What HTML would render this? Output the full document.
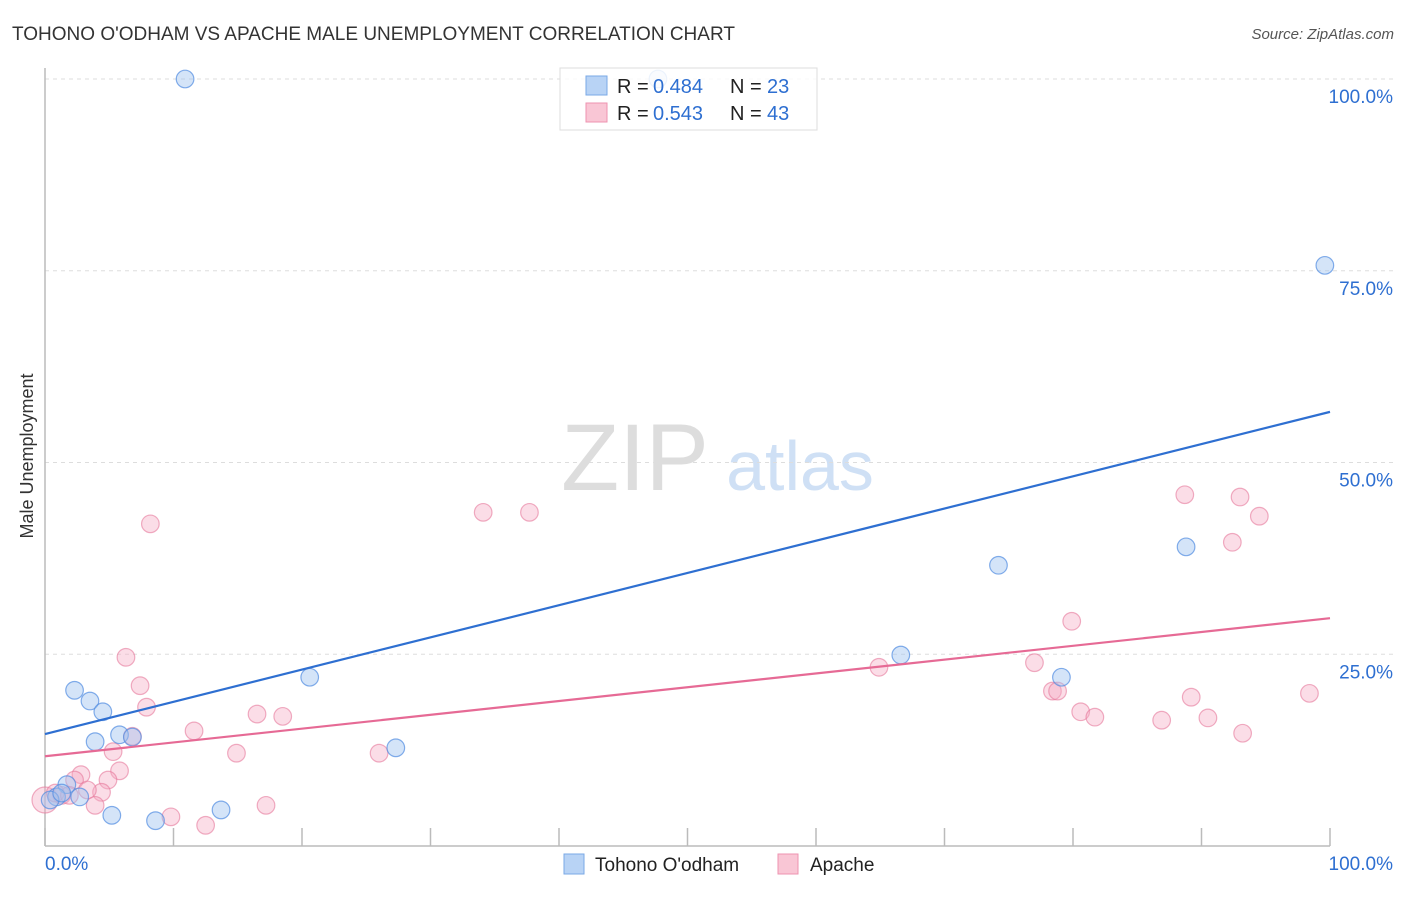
<!DOCTYPE html>
<html><head><meta charset="utf-8"><style>
body{margin:0;background:#fff;font-family:"Liberation Sans",sans-serif;}
svg text{font-family:"Liberation Sans",sans-serif;}
</style></head><body>
<svg width="1406" height="892" xmlns="http://www.w3.org/2000/svg" id="chart">
<text x="12" y="40" font-size="19" fill="#333">TOHONO O'ODHAM VS APACHE MALE UNEMPLOYMENT CORRELATION CHART</text>
<text x="1394" y="39" font-size="15" fill="#555" font-style="italic" text-anchor="end">Source: ZipAtlas.com</text>
<text x="33" y="456" font-size="18" fill="#333" text-anchor="middle" transform="rotate(-90 33 456)">Male Unemployment</text>
<g><text x="635" y="490" font-size="95" fill="#ddd" font-family="Liberation Serif" text-anchor="middle">ZIP</text><text x="800" y="490" font-size="70" fill="#cfe0f5" text-anchor="middle">atlas</text></g>
<g id="grid"></g><g id="axes"></g><g id="pts"></g><g id="lines"></g>
<g>
<rect x="560" y="68" width="257" height="62" fill="rgba(255,255,255,0.85)" stroke="#ddd"/>
<rect x="586" y="76" width="21" height="19" fill="#b8d3f5" stroke="#7aa8e6"/>
<rect x="586" y="103" width="21" height="19" fill="#f9c6d5" stroke="#ee93b0"/>
<text x="617" y="93" font-size="20" fill="#222">R =</text>
<text x="653" y="93" font-size="20" fill="#2e6fd1">0.484</text>
<text x="730" y="93" font-size="20" fill="#222">N =</text>
<text x="767" y="93" font-size="20" fill="#2e6fd1">23</text>
<text x="617" y="120" font-size="20" fill="#222">R =</text>
<text x="653" y="120" font-size="20" fill="#2e6fd1">0.543</text>
<text x="730" y="120" font-size="20" fill="#222">N =</text>
<text x="767" y="120" font-size="20" fill="#2e6fd1">43</text>
</g>
<g>
<rect x="564" y="854" width="20" height="20" fill="#b8d3f5" stroke="#7aa8e6"/>
<text x="595" y="871" font-size="19" fill="#222">Tohono O'odham</text>
<rect x="778" y="854" width="20" height="20" fill="#f9c6d5" stroke="#ee93b0"/>
<text x="810" y="871" font-size="19" fill="#222">Apache</text>
</g>
</svg>
<script>
const yTicks=[25,50,75,100];
const yTickLabels=["25.0%","50.0%","75.0%","100.0%"];
const blueX=[10.9,47.7,99.6,74.2,88.8,66.6,79.1,20.6,27.3,2.3,3.5,4.5,3.9,5.8,6.8,1.7,2.7,0.9,0.4,5.2,8.6,13.7,1.3];
const blueY=[100,100,75.7,36.6,39.0,24.9,22.0,22.0,12.8,20.3,18.9,17.5,13.6,14.5,14.2,8.0,6.4,6.4,6.0,4.0,3.3,4.7,6.9];
const pinkX=[8.2,34.1,37.7,88.7,93.0,94.5,92.4,79.9,77.0,64.9,6.3,7.4,7.9,16.5,18.5,11.6,6.8,14.9,26.0,78.4,78.8,80.6,81.7,86.9,89.2,90.5,93.2,98.4,5.3,5.8,2.8,2.3,4.9,4.4,3.3,3.9,17.2,9.8,12.5,1.3,0,0.8,1.9];
const pinkY=[42.0,43.5,43.5,45.8,45.5,43.0,39.6,29.3,23.9,23.3,24.6,20.9,18.1,17.2,16.9,15.0,14.3,12.1,12.1,20.2,20.2,17.5,16.8,16.4,19.4,16.7,14.7,19.9,12.3,9.8,9.3,8.6,8.6,7.0,7.3,5.3,5.3,3.8,2.7,6.6,6.0,6.9,6.6];
const blueTrend=[14.6,56.6];
const pinkTrend=[11.7,29.7];
const X=v=>45+v*12.85, Y=v=>846-v*7.67;
const NS="http://www.w3.org/2000/svg";
function mk(t,a,p){const e=document.createElementNS(NS,t);for(const k in a)e.setAttribute(k,a[k]);p.appendChild(e);return e;}
const grid=document.getElementById('grid'),axes=document.getElementById('axes'),pts=document.getElementById('pts'),lines=document.getElementById('lines');
yTicks.forEach((t,i)=>{
 const l=mk('line',{x1:45,x2:1394,y1:Y(t),y2:Y(t),stroke:'#ddd','stroke-dasharray':'4,4'},grid);
 
 
 const tx=mk('text',{x:1393,y:Y(t)+24,'font-size':19,fill:'#2e6fd1','text-anchor':'end'},grid);
 tx.textContent=yTickLabels[i];
 
 
});
let a=mk('line',{x1:45,x2:45,y1:68,y2:846,stroke:'#bbb','stroke-width':1.5},axes);


a=mk('line',{x1:45,x2:1330,y1:846,y2:846,stroke:'#bbb','stroke-width':1.5},axes);


for(let i=0;i<=10;i++){const t=mk('line',{x1:X(i*10),x2:X(i*10),y1:828,y2:846,stroke:'#bbb','stroke-width':1.5},axes);
 
 }
let xl=mk('text',{x:45,y:870,'font-size':19,fill:'#2e6fd1'},axes);xl.textContent='0.0%';


xl=mk('text',{x:1393,y:870,'font-size':19,fill:'#2e6fd1','text-anchor':'end'},axes);xl.textContent='100.0%';


pinkX.forEach((v,i)=>{const c=mk('circle',{cx:X(v),cy:Y(pinkY[i]),r:(v===0?13:8.8),fill:'rgba(246,170,195,0.4)',stroke:'rgba(230,120,155,0.6)','stroke-width':1.2},pts);
 
 });
blueX.forEach((v,i)=>{const c=mk('circle',{cx:X(v),cy:Y(blueY[i]),r:8.8,fill:'rgba(160,195,240,0.45)',stroke:'rgba(80,140,225,0.7)','stroke-width':1.2},pts);
 
 });
let tl=mk('line',{x1:X(0),x2:X(100),y1:Y(blueTrend[0]),y2:Y(blueTrend[1]),stroke:'#2e6fd1','stroke-width':2.2},lines);


tl=mk('line',{x1:X(0),x2:X(100),y1:Y(pinkTrend[0]),y2:Y(pinkTrend[1]),stroke:'#e66a95','stroke-width':2.2},lines);


</script>
</body></html>
